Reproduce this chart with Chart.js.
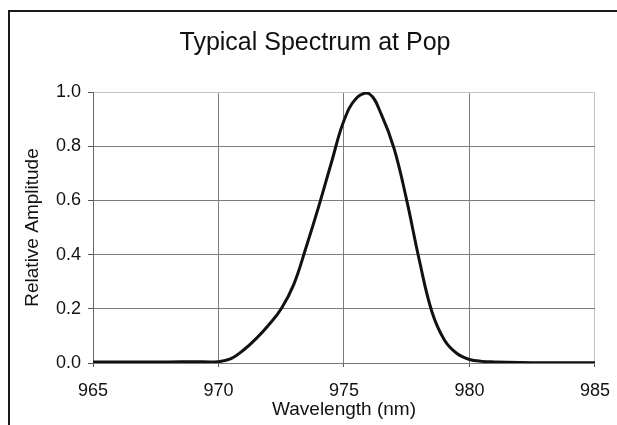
<!DOCTYPE html>
<html>
<head>
<meta charset="utf-8">
<script src="https://cdn.jsdelivr.net/npm/chart.js@4"></script>
<style>
  html, body { margin: 0; padding: 0; background: #fff; overflow: hidden; }
  #wrap { position: relative; width: 617px; height: 425px; }
  #frame { position: absolute; left: 8px; top: 10px; width: 700px; height: 500px;
           border-left: 2px solid #1a1a1a; border-top: 2px solid #1a1a1a; pointer-events: none; }
</style>
</head>
<body>
<div id="wrap">
  <canvas id="c" width="617" height="425"></canvas>
  <div id="frame"></div>
</div>
<script>
const chartTitle = "Typical Spectrum at Pop";
const xAxisTitle = "Wavelength (nm)";
const yAxisTitle = "Relative Amplitude";

const wavelengths = [965, 966, 967, 968, 969, 970, 970.5, 971.0, 971.5, 972.0, 972.5, 973.0,
  973.5, 974.0, 974.5, 975.0, 975.5, 976.0, 976.5, 977.0, 977.5, 978.0,
  978.5, 979.0, 979.5, 980.0, 980.5, 981, 982, 983, 984, 985];
const amplitude = [0.004, 0.004, 0.004, 0.004, 0.005, 0.005, 0.016, 0.048, 0.09, 0.14, 0.20, 0.29,
  0.43, 0.58, 0.74, 0.895, 0.978, 0.994, 0.915, 0.79, 0.60, 0.38,
  0.19, 0.085, 0.035, 0.013, 0.006, 0.004, 0.002, 0.001, 0.001, 0.001];

const xTicks = [965, 970, 975, 980, 985];
const yTicks = [0.0, 0.2, 0.4, 0.6, 0.8, 1.0];

const FONT = "'Liberation Sans', Arial, Helvetica, sans-serif";
const points = wavelengths.map((w, i) => ({ x: w, y: amplitude[i] }));

new Chart(document.getElementById('c'), {
  type: 'line',
  data: {
    datasets: [{
      data: points,
      borderColor: '#111111',
      borderWidth: 3,
      pointRadius: 0,
      fill: false,
      tension: 0.4
    }]
  },
  options: {
    responsive: false,
    animation: false,
    devicePixelRatio: 1,
    layout: { padding: { left: 13, right: 0, top: 0, bottom: 0 } },
    plugins: {
      legend: { display: false },
      tooltip: { enabled: false },
      title: {
        display: true,
        text: chartTitle,
        color: '#111',
        font: { family: FONT, size: 25, weight: 'normal', lineHeight: 1.2 },
        padding: { top: 28.5, bottom: 33.5 }
      }
    },
    scales: {
      x: {
        type: 'linear',
        min: xTicks[0],
        max: xTicks[xTicks.length - 1],
        afterBuildTicks: s => { s.ticks = xTicks.map(v => ({ value: v })); },
        afterFit: s => { s.height = 62; },
        ticks: {
          color: '#111',
          font: { family: FONT, size: 18, lineHeight: 1.89 },
          padding: 7,
          maxRotation: 0,
          callback: v => String(v)
        },
        grid: {
          color: ctx => (ctx.tick && ctx.tick.value === 985) ? '#cdbfc6' : '#7c7c7c',
          tickColor: '#555',
          tickLength: 4,
          lineWidth: 1
        },
        border: { display: true, color: '#777', width: 1 },
        title: {
          display: true,
          text: xAxisTitle,
          color: '#111',
          font: { family: FONT, size: 19, lineHeight: 1.2 },
          padding: { top: 0, bottom: 3.6 }
        }
      },
      y: {
        type: 'linear',
        position: 'left',
        min: 0,
        max: 1,
        afterBuildTicks: s => { s.ticks = yTicks.map(v => ({ value: v })); },
        afterFit: s => { s.width = 80; },
        ticks: {
          color: '#111',
          font: { family: FONT, size: 18 },
          padding: 7,
          callback: v => Number(v).toFixed(1)
        },
        grid: {
          color: ctx => (ctx.tick && ctx.tick.value === 1) ? '#cdbfc6' : '#7c7c7c',
          tickColor: '#555',
          tickLength: 5,
          lineWidth: 1
        },
        border: { display: true, color: '#666', width: 1 },
        title: {
          display: true,
          text: yAxisTitle,
          color: '#111',
          font: { family: FONT, size: 19, lineHeight: 1.2 },
          padding: { top: 8.6, bottom: 0 }
        }
      },
      yRightSpace: {
        type: 'linear',
        position: 'right',
        display: true,
        min: 0,
        max: 1,
        afterFit: s => { s.width = 22; },
        ticks: { display: false },
        grid: { display: false },
        border: { display: false }
      }
    }
  }
});
</script>
</body>
</html>
